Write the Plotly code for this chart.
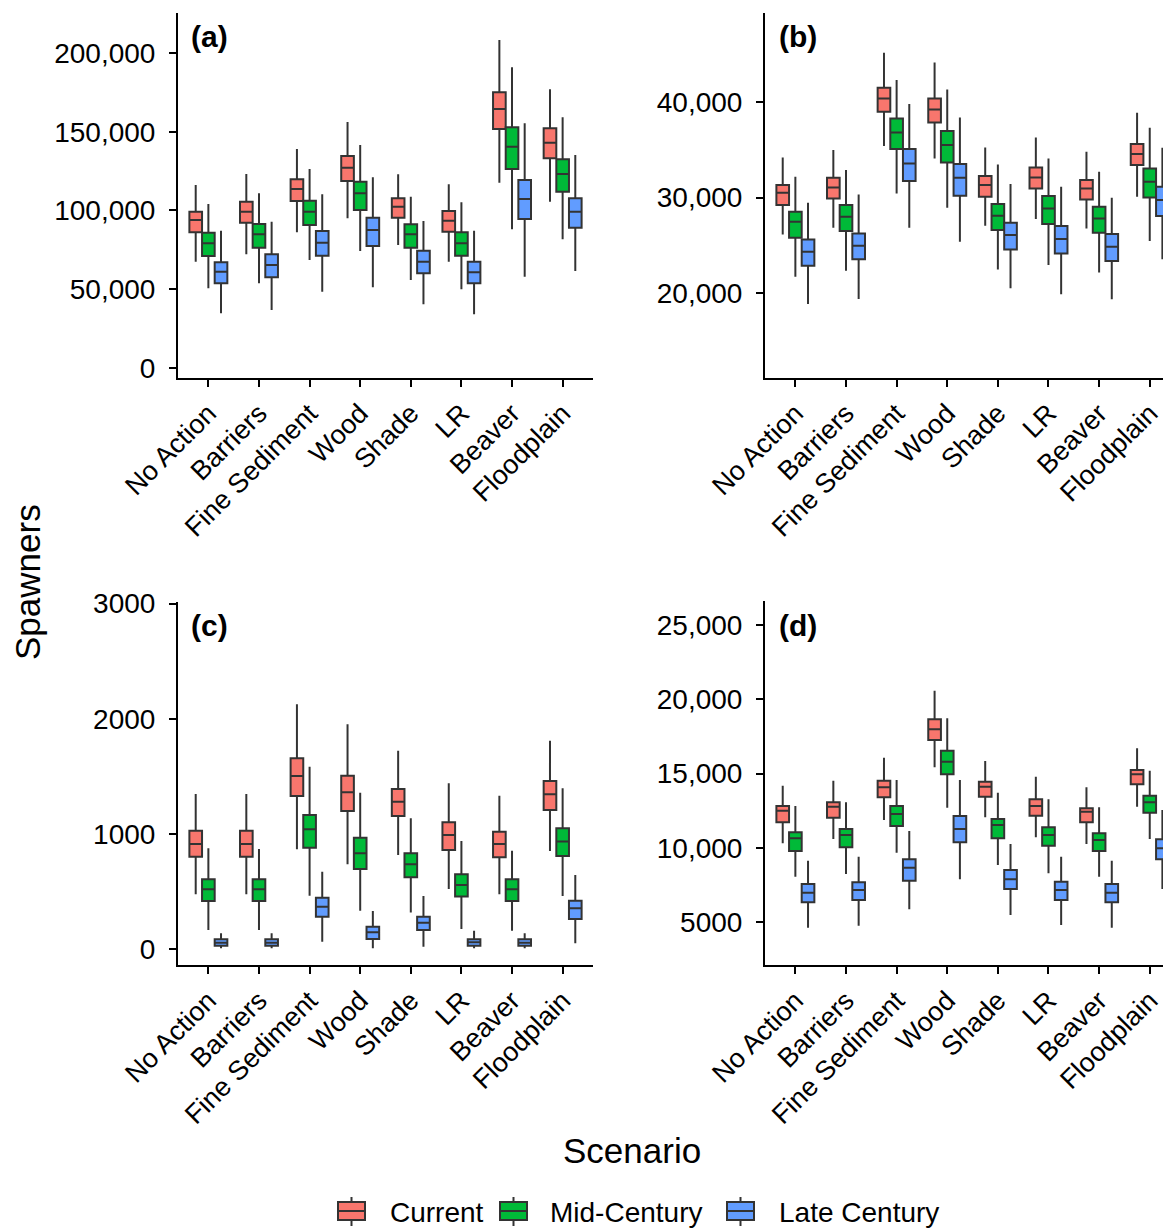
import plotly.graph_objects as go

W, H = 1171, 1228
OFF = 8  # page body margin of the html page, in pixels

scenarios = ["No Action", "Barriers", "Fine Sediment", "Wood", "Shade", "LR", "Beaver", "Floodplain"]
periods = ["Current", "Mid-Century", "Late Century"]
colors = ["#F8766D", "#00BA38", "#619CFF"]

# each entry: [lower whisker, q1, median, q3, upper whisker] per scenario
# ---- panel (a)
a_current = [[67416, 86072, 93916, 99216, 116176], [72080, 92220, 99216, 105576, 123172],
             [86072, 106000, 113632, 119780, 139072], [94976, 118720, 127200, 134620, 156244],
             [78016, 95400, 102396, 107696, 122960], [67416, 86496, 93492, 99640, 116600],
             [117660, 151792, 164512, 175112, 208396], [105576, 133136, 143100, 152216, 177020]]
a_mid = [[50456, 71020, 79076, 85860, 104092], [53636, 76320, 84800, 91372, 110876],
         [68476, 90736, 99216, 106212, 126352], [74200, 100276, 110876, 118296, 141616],
         [55756, 76320, 84800, 91160, 108756], [49820, 71232, 79076, 86072, 105152],
         [87980, 126352, 140556, 152852, 191012], [81620, 111936, 123172, 132500, 159212]]
a_late = [[34556, 53636, 61056, 66992, 87132], [36676, 57452, 65296, 72080, 92856],
          [48336, 71232, 79500, 86920, 110240], [51092, 77380, 87556, 95400, 121052],
          [40280, 59996, 67416, 74412, 93280], [33920, 53636, 60632, 67416, 87132],
          [57876, 94552, 107272, 119356, 155396], [61480, 89040, 99216, 107696, 135256]]
# ---- panel (b)
b_current = [[26156, 29217, 30504, 31304, 34190], [26852, 29912, 31060, 32069, 34955],
             [35373, 38955, 40346, 41459, 45111], [34086, 37842, 39199, 40346, 44103],
             [27060, 30086, 31304, 32243, 35234], [27756, 30956, 32103, 33147, 36277],
             [26782, 29808, 30956, 31825, 34782], [30086, 33390, 34538, 35581, 38851]]
b_mid = [[21739, 25808, 27478, 28521, 32173], [22365, 26504, 28000, 29217, 32869],
         [30434, 35060, 36799, 38260, 42259], [28938, 33669, 35477, 36938, 41285],
         [22504, 26608, 28104, 29321, 33460], [22956, 27234, 28869, 30156, 34086],
         [22191, 26330, 27826, 29043, 32695], [25460, 30017, 31651, 33043, 37286]]
b_late = [[18887, 22887, 24348, 25634, 29460], [19409, 23548, 24974, 26260, 30330],
          [26852, 31721, 33564, 35060, 39755], [25391, 30191, 32069, 33495, 38364],
          [20522, 24591, 26087, 27373, 31408], [19896, 24174, 25669, 27026, 31130],
          [19374, 23374, 24869, 26191, 29982], [23548, 28069, 29738, 31130, 35199]]
# ---- panel (c)
c_current = [[475, 802, 912, 1028, 1347], [475, 802, 912, 1028, 1347],
             [866, 1329, 1503, 1657, 2126], [736, 1199, 1361, 1506, 1952],
             [817, 1156, 1280, 1390, 1723], [521, 860, 990, 1100, 1439],
             [475, 796, 912, 1019, 1332], [851, 1208, 1344, 1460, 1810]]
c_mid = [[165, 417, 518, 605, 875], [165, 417, 518, 605, 869],
         [463, 880, 1040, 1164, 1584], [333, 695, 831, 967, 1358],
         [316, 623, 736, 831, 1135], [174, 455, 556, 649, 938],
         [159, 417, 518, 605, 854], [460, 808, 933, 1048, 1396]]
c_late = [[6, 29, 55, 84, 136], [6, 29, 55, 84, 136],
          [64, 281, 368, 446, 672], [6, 87, 145, 194, 330],
          [20, 165, 229, 281, 460], [6, 29, 58, 84, 159],
          [6, 29, 55, 84, 136], [49, 261, 353, 420, 643]]
# ---- panel (d)
d_current = [[10314, 11726, 12511, 12825, 14192], [10605, 12040, 12780, 13071, 14529],
             [11883, 13408, 14080, 14529, 16075], [15425, 17264, 17981, 18654, 20582],
             [12062, 13452, 14125, 14461, 15851], [10717, 12174, 12825, 13273, 14798],
             [10269, 11726, 12443, 12668, 14080], [12780, 14282, 14954, 15246, 16703]]
d_mid = [[8072, 9798, 10650, 11053, 12825], [8251, 10045, 10874, 11278, 13071],
         [9686, 11479, 12287, 12825, 14573], [12712, 14954, 15806, 16546, 18721],
         [8856, 10650, 11547, 11950, 13721], [8296, 10157, 10874, 11390, 13273],
         [8072, 9798, 10538, 10986, 12735], [10605, 12376, 13071, 13520, 15201]]
d_late = [[4641, 6345, 6995, 7578, 9148], [4776, 6502, 7175, 7690, 9417],
          [5874, 7803, 8677, 9237, 11143], [7892, 10381, 11278, 12152, 14573],
          [5493, 7242, 7892, 8520, 10269], [4821, 6502, 7175, 7735, 9417],
          [4641, 6345, 6995, 7578, 9148], [7242, 9237, 9977, 10583, 12556]]

a_ticks = [0, 50000, 100000, 150000, 200000]
a_ticktext = ["0", "50,000", "100,000", "150,000", "200,000"]
b_ticks = [20000, 30000, 40000]
b_ticktext = ["20,000", "30,000", "40,000"]
c_ticks = [0, 1000, 2000, 3000]
c_ticktext = ["0", "1000", "2000", "3000"]
d_ticks = [5000, 10000, 15000, 20000, 25000]
d_ticktext = ["5000", "10,000", "15,000", "20,000", "25,000"]

panel_labels = ["(a)", "(b)", "(c)", "(d)"]

FONT = "Liberation Sans, Arial, sans-serif"
EDGE = "#333333"


def px(x):
    return (x - OFF) / W


def py(y):
    return 1 - (y - OFF) / H


panels = [
    dict(data=[a_current, a_mid, a_late], ticks=a_ticks, tt=a_ticktext, yr=[-6360, 225780],
         xd=[px(178), px(593)], yd=[py(377.7), py(12.7)], xr=[-0.6, 7.6]),
    dict(data=[b_current, b_mid, b_late], ticks=b_ticks, tt=b_ticktext, yr=[11200, 49290],
         xd=[px(765), px(1171)], yd=[py(377.7), py(12.7)], xr=[-0.6, 7.42]),
    dict(data=[c_current, c_mid, c_late], ticks=c_ticks, tt=c_ticktext, yr=[-139, 3017],
         xd=[px(178), px(593)], yd=[py(965), py(601.7)], xr=[-0.6, 7.6]),
    dict(data=[d_current, d_mid, d_late], ticks=d_ticks, tt=d_ticktext, yr=[2130, 26635],
         xd=[px(765), px(1171)], yd=[py(965), py(600.7)], xr=[-0.6, 7.42]),
]

fig = go.Figure()
layout_axes = {}
annotations = []
shapes = []
label_pos = [(189, 36), (777, 36), (189, 625), (777, 625)]

for i, p in enumerate(panels):
    n = "" if i == 0 else str(i + 1)
    xa, ya = "x" + n, "y" + n
    for j, (series, name, col) in enumerate(zip(p["data"], periods, colors)):
        fig.add_trace(go.Box(
            x=scenarios,
            lowerfence=[s[0] for s in series],
            q1=[s[1] for s in series],
            median=[s[2] for s in series],
            q3=[s[3] for s in series],
            upperfence=[s[4] for s in series],
            name=name, legendgroup=name, showlegend=False,
            offsetgroup=name,
            fillcolor=col,
            line=dict(color=EDGE, width=2),
            whiskerwidth=0,
            boxpoints=False,
            hoverinfo="skip",
            xaxis=xa, yaxis=ya,
        ))
    layout_axes["xaxis" + n] = dict(
        domain=p["xd"], anchor=ya, range=p["xr"], type="category",
        categoryorder="array", categoryarray=scenarios, automargin=False,
        showline=True, linecolor="black", linewidth=2, mirror=False,
        ticks="outside", ticklen=7, tickwidth=2, tickcolor="black",
        tickangle=-45, tickfont=dict(family=FONT, size=27, color="black"),
        showgrid=False, zeroline=False, fixedrange=True,
    )
    layout_axes["yaxis" + n] = dict(
        domain=p["yd"], anchor=xa, range=p["yr"], automargin=False,
        tickvals=p["ticks"], ticktext=p["tt"],
        showline=True, linecolor="black", linewidth=2, mirror=False,
        ticks="outside", ticklen=7, tickwidth=2, tickcolor="black",
        ticklabelstandoff=8,
        tickfont=dict(family=FONT, size=28, color="black"),
        showgrid=False, zeroline=False, fixedrange=True,
    )
    lx, ly = label_pos[i]
    annotations.append(dict(
        text="<b>" + panel_labels[i] + "</b>", x=px(lx), y=py(ly), xref="paper", yref="paper",
        xanchor="left", yanchor="middle", showarrow=False,
        font=dict(family=FONT, size=30, color="black"),
    ))

annotations.append(dict(text="Spawners", x=px(27), y=py(582), xref="paper", yref="paper",
                        textangle=-90, showarrow=False, xanchor="center", yanchor="middle",
                        font=dict(family=FONT, size=35, color="black")))
annotations.append(dict(text="Scenario", x=px(632), y=py(1150), xref="paper", yref="paper",
                        showarrow=False, xanchor="center", yanchor="middle",
                        font=dict(family=FONT, size=35, color="black")))

# legend drawn as box-plot keys with text labels
legend_glyph_x = [338, 500, 727]
legend_text_x = [388, 548, 777]
ly_top, ly_bot, ly_mid, wh_top, wh_bot = 1202, 1220, 1211, 1197, 1226
for name, col, gx, tx in zip(periods, colors, legend_glyph_x, legend_text_x):
    cx = gx + 13.5
    shapes.append(dict(type="line", xref="paper", yref="paper",
                       x0=px(cx), x1=px(cx), y0=py(wh_top), y1=py(wh_bot),
                       line=dict(color=EDGE, width=2)))
    shapes.append(dict(type="rect", xref="paper", yref="paper",
                       x0=px(gx), x1=px(gx + 27), y0=py(ly_top), y1=py(ly_bot),
                       fillcolor=col, line=dict(color=EDGE, width=2)))
    shapes.append(dict(type="line", xref="paper", yref="paper",
                       x0=px(gx), x1=px(gx + 27), y0=py(ly_mid), y1=py(ly_mid),
                       line=dict(color=EDGE, width=2)))
    annotations.append(dict(text=name, x=px(tx), y=py(1212), xref="paper", yref="paper",
                            xanchor="left", yanchor="middle", showarrow=False,
                            font=dict(family=FONT, size=28, color="black")))

fig.update_layout(
    width=W, height=H,
    margin=dict(l=0, r=0, t=0, b=0, autoexpand=False),
    paper_bgcolor="white", plot_bgcolor="white",
    boxmode="group", boxgap=0.25, boxgroupgap=0,
    showlegend=False,
    annotations=annotations,
    shapes=shapes,
    **layout_axes,
)

fig.write_html("out.html")
